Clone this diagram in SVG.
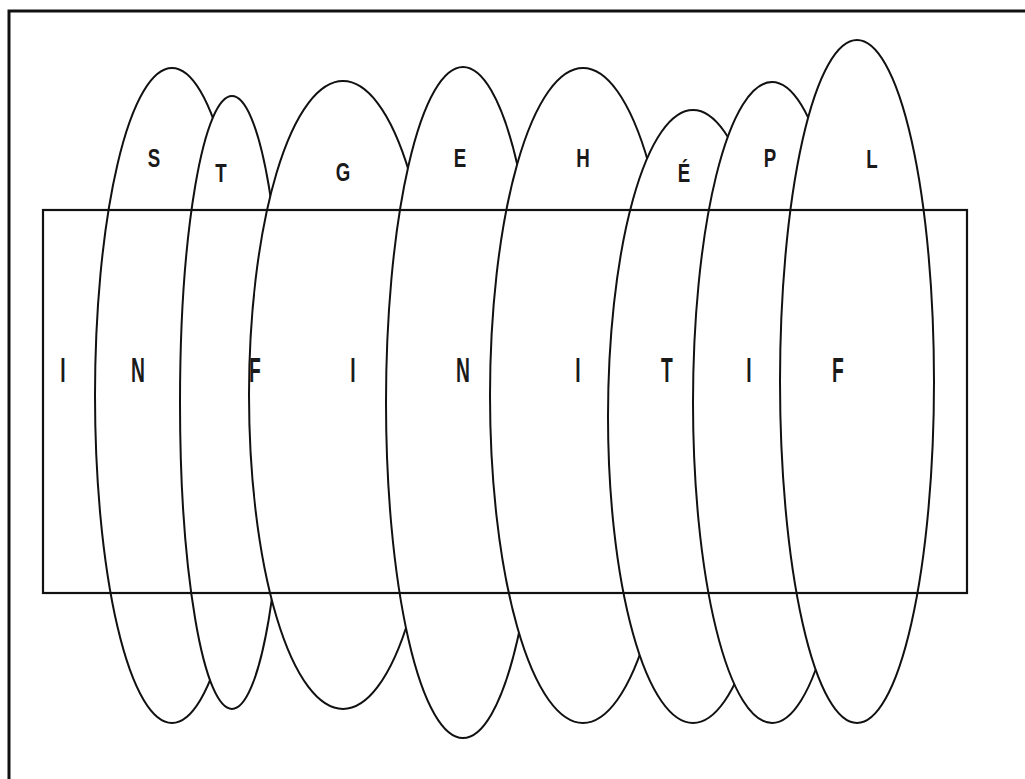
<svg xmlns="http://www.w3.org/2000/svg" width="1025" height="779" viewBox="0 0 1025 779">
  <style>
    .ell { fill: #ffffff; stroke: #111111; stroke-width: 2; }
    .box { fill: none; stroke: #111111; stroke-width: 2.2; }
    .frame { fill: none; stroke: #111111; stroke-width: 3; }
    .top { font-family: "Liberation Sans", Arial, sans-serif; font-size: 26px; font-weight: bold; fill: #1a1a1a; text-anchor: middle; }
    .mid { font-family: "Liberation Sans", Arial, sans-serif; font-size: 35px; font-weight: bold; fill: #1a1a1a; text-anchor: middle; }
  </style>
  <rect width="1025" height="779" fill="#ffffff"/>
  <g id="frame">
    <rect class="frame" x="9" y="11" width="1040" height="800"/>
  </g>
  <g id="node-S">
    <ellipse class="ell" cx="172" cy="395.5" rx="77" ry="327.5"/>
    <text class="top" transform="translate(154,167) scale(0.72,1)">S</text>
  </g>
  <g id="node-T">
    <ellipse class="ell" cx="232" cy="402.5" rx="52" ry="306.5"/>
    <text class="top" transform="translate(221,182) scale(0.72,1)">T</text>
  </g>
  <g id="node-G">
    <ellipse class="ell" cx="343" cy="395" rx="94" ry="314"/>
    <text class="top" transform="translate(343,181) scale(0.72,1)">G</text>
  </g>
  <g id="node-E">
    <ellipse class="ell" cx="463" cy="402.5" rx="77" ry="335.5"/>
    <text class="top" transform="translate(460,167) scale(0.72,1)">E</text>
  </g>
  <g id="node-H">
    <ellipse class="ell" cx="583" cy="395.5" rx="93" ry="327.5"/>
    <text class="top" transform="translate(583,167) scale(0.72,1)">H</text>
  </g>
  <g id="node-E-acute">
    <ellipse class="ell" cx="693" cy="416.5" rx="85" ry="306.5"/>
    <text class="top" transform="translate(684,182) scale(0.72,1)">É</text>
  </g>
  <g id="node-P">
    <ellipse class="ell" cx="772" cy="402.5" rx="79" ry="320.5"/>
    <text class="top" transform="translate(770,167) scale(0.72,1)">P</text>
  </g>
  <g id="node-L">
    <ellipse class="ell" cx="857" cy="381.5" rx="77" ry="341.5"/>
    <text class="top" transform="translate(872,168) scale(0.72,1)">L</text>
  </g>
  <g id="node-infinitif">
    <rect class="box" x="43" y="210" width="924" height="383"/>
    <text class="mid" transform="translate(63,382) scale(0.55,1)">I</text>
    <text class="mid" transform="translate(138,382) scale(0.55,1)">N</text>
    <text class="mid" transform="translate(255,382) scale(0.55,1)">F</text>
    <text class="mid" transform="translate(353,382) scale(0.55,1)">I</text>
    <text class="mid" transform="translate(463,382) scale(0.55,1)">N</text>
    <text class="mid" transform="translate(578,382) scale(0.55,1)">I</text>
    <text class="mid" transform="translate(667,382) scale(0.55,1)">T</text>
    <text class="mid" transform="translate(749,382) scale(0.55,1)">I</text>
    <text class="mid" transform="translate(838,382) scale(0.55,1)">F</text>
  </g>
  <g id="connectors"/>
</svg>
